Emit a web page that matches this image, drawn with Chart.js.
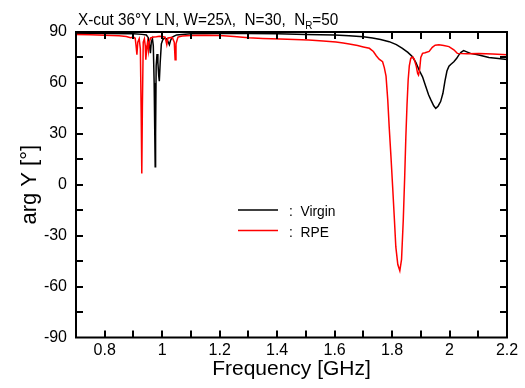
<!DOCTYPE html>
<html>
<head>
<meta charset="utf-8">
<script src="https://cdn.jsdelivr.net/npm/chart.js@4.4.1/dist/chart.umd.min.js"></script>
<style>
  html, body { margin: 0; padding: 0; background: #fff; }
  #wrap { width: 525px; height: 388px; }
</style>
</head>
<body>
<div id="wrap"><canvas id="myChart" width="525" height="388"></canvas></div>
<script>
// Virgin (black) curve
const freqVirgin = [0.70, 0.80, 0.90, 0.93, 0.945, 0.952, 0.956, 0.959, 0.962, 0.966, 0.969, 0.972, 0.9745, 0.9756,
    0.977, 0.979, 0.982, 0.985, 0.988, 0.990, 0.993, 0.997, 1.002, 1.008, 1.015, 1.021, 1.025, 1.029, 1.035, 1.05,
    1.10, 1.20, 1.30, 1.40, 1.50, 1.60, 1.65, 1.70, 1.732, 1.76, 1.79, 1.815, 1.836, 1.855, 1.871, 1.883, 1.894,
    1.906, 1.917, 1.927, 1.935, 1.945, 1.952, 1.96, 1.969, 1.977, 1.984, 1.991, 1.998, 2.005, 2.015, 2.025, 2.032,
    2.04, 2.049, 2.06, 2.073, 2.102, 2.137, 2.17, 2.20];
const argVirgin = [89.2, 89.1, 88.9, 88.6, 88.2, 86.5, 82, 77.5, 84, 86, 82, 60, 25, 10.6,
    30, 70, 77, 72, 64, 61, 72, 83, 85.5, 86.5, 86, 84, 82.5, 85, 87, 88.3,
    88.9, 89.1, 89.1, 89, 88.6, 88.2, 87.8, 87.2, 86.5, 85.6, 84.3, 82.6, 80.4, 78, 75.4, 72, 67.6,
    63.6, 58, 53, 50, 46.5, 45, 46.3, 49, 53.9, 61, 67, 69.8, 71, 72.5, 74.5, 76.4,
    78, 79, 78.3, 77.4, 76.4, 75, 74.4, 73.8];

// RPE (red) curve
const freqRPE = [0.70, 0.75, 0.80, 0.85, 0.875, 0.89, 0.90, 0.906, 0.909, 0.912, 0.915, 0.92, 0.924, 0.927, 0.929,
    0.931, 0.934, 0.938, 0.941, 0.943, 0.946, 0.949, 0.952, 0.955, 0.96, 0.97, 0.98, 0.99, 1.00, 1.01, 1.016,
    1.02, 1.035, 1.042, 1.045, 1.048, 1.055, 1.07, 1.10, 1.15, 1.20, 1.25, 1.30, 1.35, 1.41, 1.46, 1.51, 1.56,
    1.605, 1.63, 1.651, 1.68, 1.70, 1.721, 1.735, 1.745, 1.755, 1.767, 1.773, 1.779, 1.785, 1.79, 1.796, 1.802,
    1.808, 1.813, 1.82, 1.827, 1.833, 1.839, 1.844, 1.848, 1.852, 1.856, 1.86, 1.865, 1.872, 1.877, 1.884,
    1.889, 1.892, 1.896, 1.90, 1.906, 1.915, 1.929, 1.94, 1.95, 1.963, 1.98, 1.998, 2.015, 2.027, 2.06,
    2.102, 2.15, 2.20];
const argRPE = [88.6, 88.4, 88.1, 87.8, 87.4, 86.6, 87, 86.3, 82, 76.6, 84, 86, 80, 40, 6.7,
    45, 84, 86, 82, 73.7, 80, 84, 79, 84, 86.5, 87, 87.2, 87.5, 87.3, 87, 82.5,
    86.5, 86.8, 84, 73.7, 83, 87, 87.6, 88, 88.1, 88, 87.4, 86.6, 86.2, 85.9, 85.6, 85.3, 84.7,
    84.1, 83.5, 82.9, 82, 81.2, 80.4, 78.5, 76, 74, 72.5, 69, 64, 50, 34, 17, -1.2,
    -20, -36.5, -47, -50.7, -44, -20.8, 5, 28.3, 47, 61.7, 70, 74.5, 75.2, 74, 70,
    65.5, 64.6, 68, 75, 77.4, 77.8, 78.6, 81, 82.2, 82.5, 82, 81.4, 79.5, 77.4, 77.2,
    77.4, 77, 76.6];

const xTicks = [0.8, 1.0, 1.2, 1.4, 1.6, 1.8, 2.0, 2.2];
const xMinorTicks = [0.8, 0.9, 1.0, 1.1, 1.2, 1.3, 1.4, 1.5, 1.6, 1.7, 1.8, 1.9, 2.0, 2.1];
const yTicks = [-90, -60, -30, 0, 30, 60, 90];
const yMinorTicks = [-75, -60, -45, -30, -15, 0, 15, 30, 45, 60, 75];

const FONT = "'Liberation Sans', Arial, sans-serif";

function toPoints(xs, ys) {
    return xs.map((v, i) => ({ x: v, y: ys[i] }));
}

// draw text squeezed horizontally (the original lettering is condensed)
function squeezedText(ctx, text, x, y, sx) {
    ctx.save();
    ctx.translate(x, y);
    ctx.scale(sx, 1);
    ctx.fillText(text, 0, 0);
    ctx.restore();
    return ctx.measureText(text).width * sx;
}

// frame, inward ticks on all four sides, title and the legend inside the plot
const framePlugin = {
    id: "frame",
    afterDatasetsDraw(chart) {
        const { ctx, chartArea: a, scales } = chart;
        const len = 7;
        ctx.save();
        ctx.strokeStyle = "#000";
        ctx.lineWidth = 2;
        ctx.strokeRect(a.left, a.top, a.right - a.left, a.bottom - a.top);
        ctx.beginPath();
        xMinorTicks.forEach(v => {
            const px = Math.round(scales.x.getPixelForValue(v));
            ctx.moveTo(px, a.bottom);
            ctx.lineTo(px, a.bottom - len);
            ctx.moveTo(px, a.top);
            ctx.lineTo(px, a.top + len);
        });
        yMinorTicks.forEach(v => {
            const py = Math.round(scales.y.getPixelForValue(v));
            ctx.moveTo(a.left, py);
            ctx.lineTo(a.left + len, py);
            ctx.moveTo(a.right, py);
            ctx.lineTo(a.right - len, py);
        });
        ctx.stroke();

        // title with subscript
        ctx.fillStyle = "#000";
        ctx.textBaseline = "alphabetic";
        ctx.textAlign = "left";
        const sx = 0.9;
        let tx = 78;
        const ty = 25;
        ctx.font = "17px " + FONT;
        tx += squeezedText(ctx, "X-cut 36\u00b0Y LN, W=25\u03bb,  N=30,  N", tx, ty, sx);
        ctx.font = "11px " + FONT;
        tx += squeezedText(ctx, "R", tx, ty + 4, sx);
        ctx.font = "17px " + FONT;
        squeezedText(ctx, "=50", tx, ty, sx);

        // legend
        const rows = [{ y: 210, ds: chart.data.datasets[0] }, { y: 230.5, ds: chart.data.datasets[1] }];
        ctx.font = "15px " + FONT;
        rows.forEach(r => {
            ctx.strokeStyle = r.ds.borderColor;
            ctx.lineWidth = 1.5;
            ctx.beginPath();
            ctx.moveTo(238, r.y);
            ctx.lineTo(278, r.y);
            ctx.stroke();
            ctx.fillStyle = "#000";
            squeezedText(ctx, ":  " + r.ds.label, 289, r.y + 6, 0.92);
        });
        ctx.restore();
    }
};

let buildChart = function () {
    const ctx = document.getElementById("myChart");
    new Chart(ctx, {
        type: "scatter",
        data: {
            datasets: [
                {
                    label: "Virgin",
                    data: toPoints(freqVirgin, argVirgin),
                    borderColor: "#000000",
                    borderWidth: 1.5,
                    showLine: true,
                    pointRadius: 0,
                    tension: 0,
                    order: 1,
                },
                {
                    label: "RPE",
                    data: toPoints(freqRPE, argRPE),
                    borderColor: "#ff0000",
                    borderWidth: 1.5,
                    showLine: true,
                    pointRadius: 0,
                    tension: 0,
                    order: 0,
                },
            ],
        },
        options: {
            responsive: false,
            animation: false,
            devicePixelRatio: 1,
            layout: { padding: { top: 32, right: 18, left: 0, bottom: 0 } },
            plugins: {
                legend: { display: false },
                tooltip: { enabled: false },
            },
            scales: {
                x: {
                    type: "linear",
                    min: 0.7,
                    max: 2.2,
                    grid: { display: false, drawTicks: false },
                    border: { display: false },
                    afterBuildTicks: s => { s.ticks = xTicks.map(v => ({ value: v })); },
                    afterFit: s => { s.height = 50.5; },
                    ticks: {
                        color: "#000",
                        padding: 3,
                        maxRotation: 0,
                        font: { family: FONT, size: 16 },
                        callback: v => String(Number(v.toFixed(1))),
                    },
                    title: {
                        display: true,
                        text: "Frequency [GHz]",
                        color: "#000",
                        padding: { top: 0, bottom: 6 },
                        font: { family: FONT, size: 21, lineHeight: 1.2 },
                    },
                },
                y: {
                    min: -90,
                    max: 90,
                    grid: { display: false, drawTicks: false },
                    border: { display: false },
                    afterBuildTicks: s => { s.ticks = yTicks.map(v => ({ value: v })); },
                    afterFit: s => { s.width = 76; },
                    ticks: {
                        color: "#000",
                        padding: 9,
                        font: { family: FONT, size: 16 },
                    },
                    title: {
                        display: true,
                        text: "arg Y [\u00b0]",
                        color: "#000",
                        padding: { top: 17, bottom: 0 },
                        font: { family: FONT, size: 22, lineHeight: 1.2 },
                    },
                },
            },
        },
        plugins: [framePlugin],
    });
};

buildChart();
</script>
</body>
</html>
